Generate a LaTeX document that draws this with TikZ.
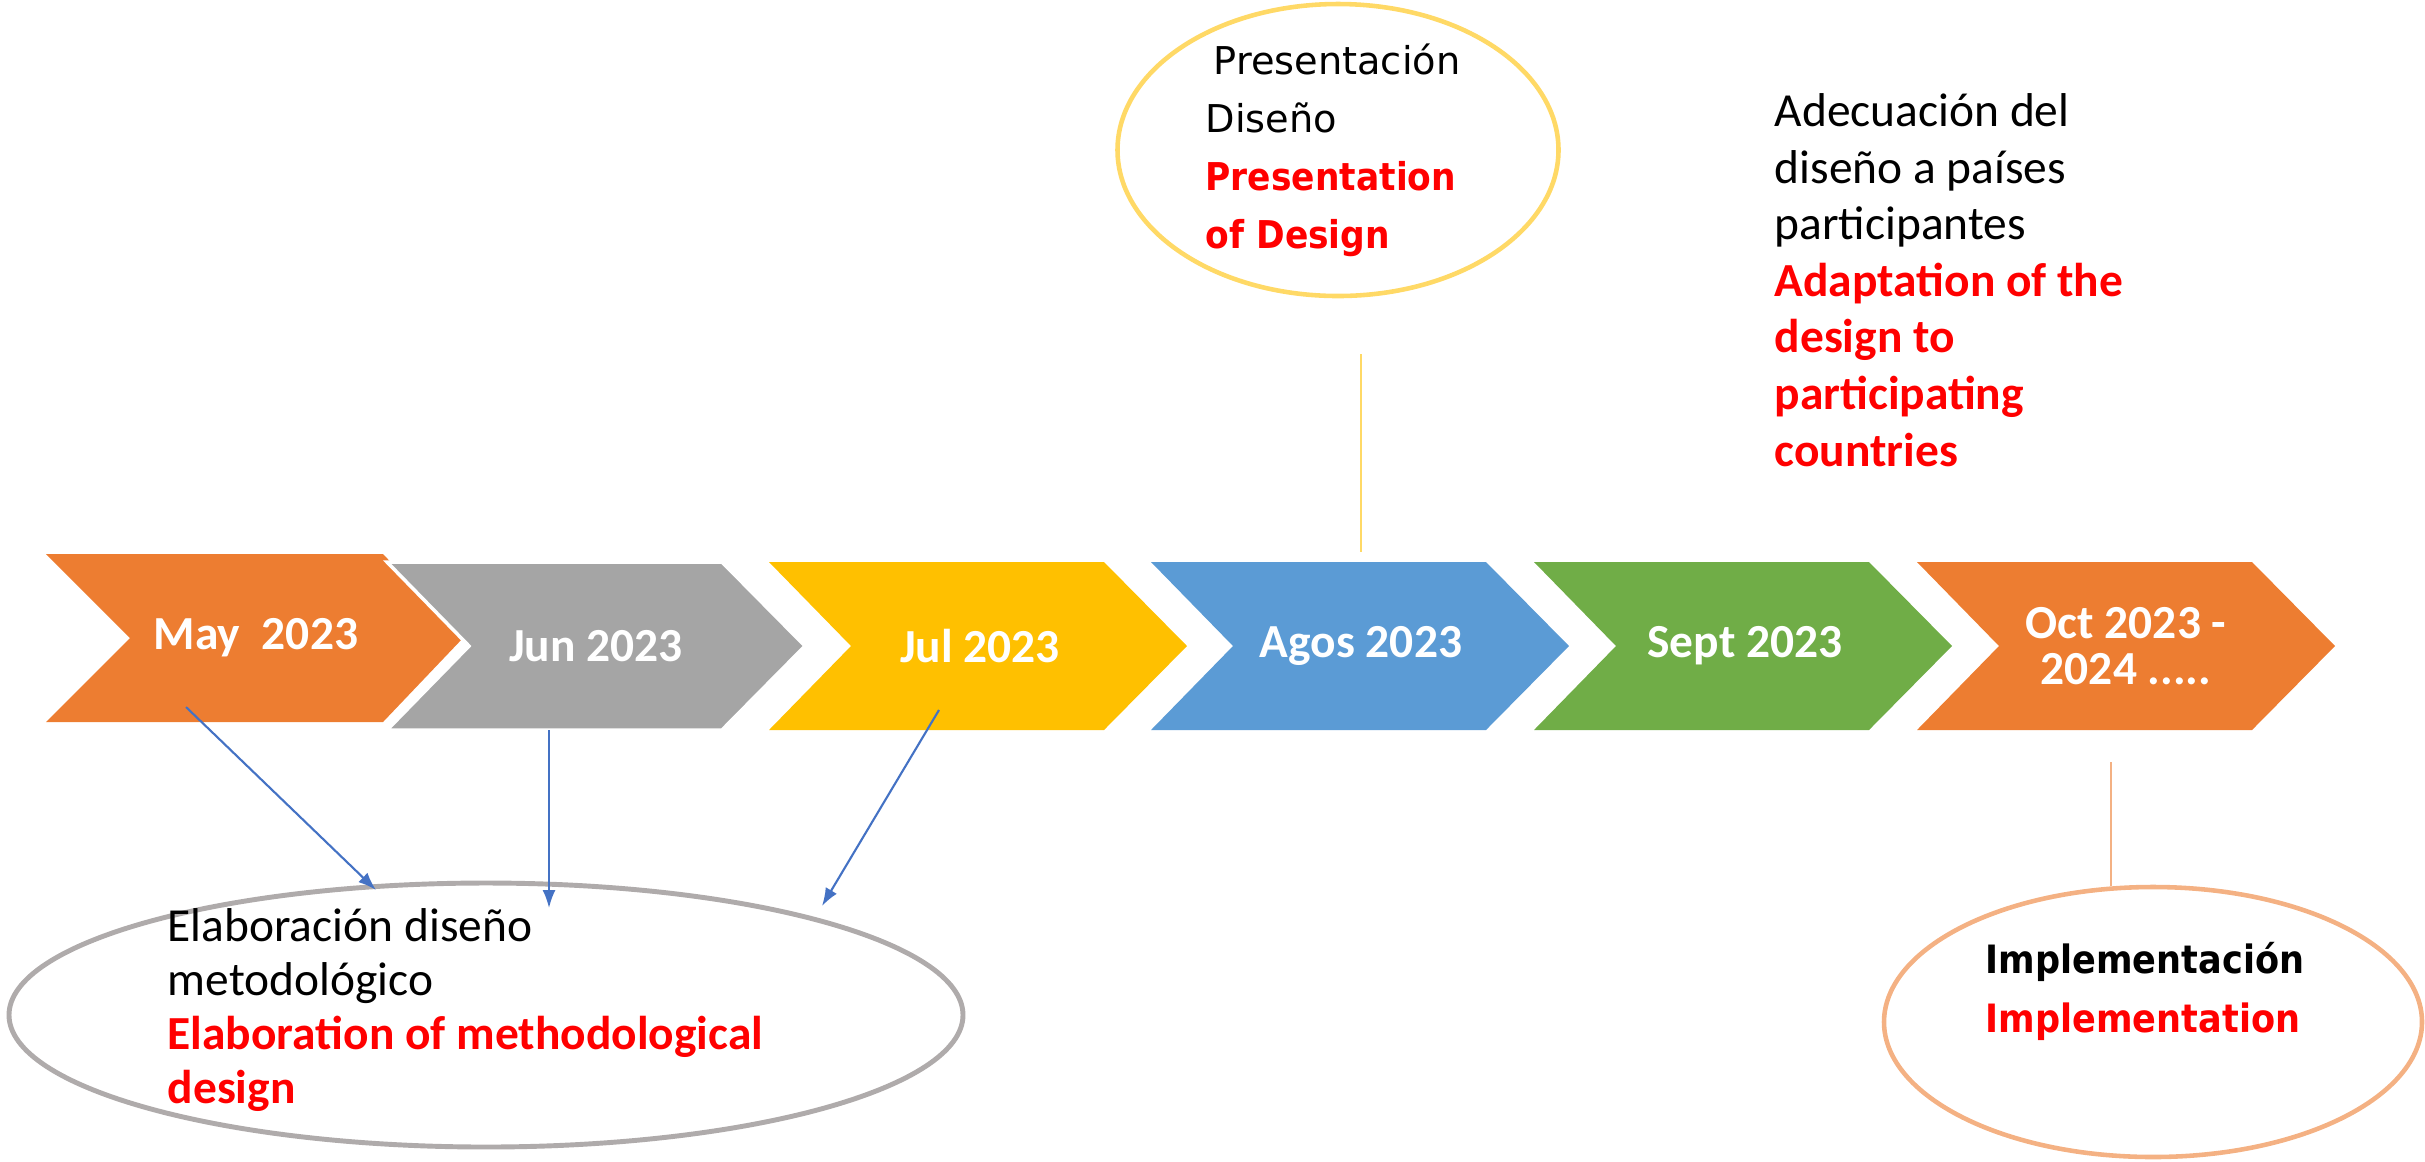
\documentclass[tikz,border=0pt]{standalone}
\usepackage{fontspec}
\setmainfont{Carlito}
\newfontfamily\verdana{DejaVu Sans}
\newfontfamily\tahoma{DejaVu Sans}[FakeStretch=0.9]
\usetikzlibrary{arrows.meta}

\definecolor{naranja}{HTML}{ED7D31}
\definecolor{gris}{HTML}{A5A5A5}
\definecolor{amarillo}{HTML}{FFC000}
\definecolor{azul}{HTML}{5B9BD5}
\definecolor{verde}{HTML}{70AD47}
\definecolor{azulflecha}{HTML}{4472C4}
\definecolor{grisborde}{HTML}{AFABAB}
\definecolor{oroclaro}{HTML}{FFD966}
\definecolor{salmon}{HTML}{F4B183}
\definecolor{rojo}{HTML}{FF0000}

\newcommand{\rojo}[1]{\textcolor{rojo}{\bfseries #1}}

\tikzset{
  mes/.style={text=white, align=center, inner sep=0pt, font=\fontsize{13.5}{16}\selectfont\bfseries},
  texto/.style={anchor=west, align=left, inner sep=0pt, font=\fontsize{13.5}{15.4}\selectfont},
  conector/.style={azulflecha, line width=0.6pt, -{Latex[length=1.8mm,width=1.3mm]}},
}

\begin{document}
\begin{tikzpicture}[x=0.1mm, y=-0.1mm] %1 unidad = 1 pixel
        \useasboundingbox (0,0) rectangle (2425,1161);

        %flechas de los meses
        \fill[naranja] (46,554) -- (383,554) -- (463,638) -- (383,722) -- (46,722) -- (130,638) -- cycle;
        \filldraw[fill=gris, draw=white, line width=1pt] (387,562) -- (722,562) -- (805,646) -- (722,730) -- (387,730) -- (469,646) -- cycle;
        \fill[amarillo] (769,562) -- (1104,562) -- (1187,646) -- (1104,730) -- (769,730) -- (851,646) -- cycle;
        \fill[azul] (1151,562) -- (1486,562) -- (1569,646) -- (1486,730) -- (1151,730) -- (1233,646) -- cycle;
        \fill[verde] (1534,562) -- (1869,562) -- (1952,646) -- (1869,730) -- (1534,730) -- (1616,646) -- cycle;
        \fill[naranja] (1917,562) -- (2252,562) -- (2335,646) -- (2252,730) -- (1917,730) -- (1999,646) -- cycle;

        \node[mes] (may) at (256,638) {May\ \ 2023};
        \node[mes] (jun) at (596,646) {Jun 2023};
        \node[mes] (jul) at (980,646) {Jul 2023};
        \node[mes] (agos) at (1361,646) {Agos 2023};
        \node[mes] (sept) at (1745,646) {Sept 2023};
        \node[mes, font=\fontsize{13.5}{13.3}\selectfont\bfseries] (oct) at (2126,646) {Oct 2023 -\\2024 .....};

        %elipses
        \draw[grisborde, line width=1.4pt] (486,1015) ellipse (47.7mm and 13.2mm);
        \draw[oroclaro, line width=1.3pt] (1338,150) ellipse (22.05mm and 14.6mm);
        \draw[salmon, line width=1.3pt] (2153,1022) ellipse (26.9mm and 13.5mm);

        %conectores
        \coordinate (a1) at (186,707);
        \coordinate (b1) at (376,890);
        \coordinate (a2) at (549,730);
        \coordinate (b2) at (549,908);
        \coordinate (a3) at (939,710);
        \coordinate (b3) at (822,906);
        \coordinate (p1) at (1361,354);
        \coordinate (p2) at (1361,552);
        \coordinate (q1) at (2111,762);
        \coordinate (q2) at (2111,886);

        \draw[conector] (a1) -- (b1);
        \draw[conector] (a2) -- (b2);
        \draw[conector] (a3) -- (b3);
        \draw[amarillo!60, line width=0.6pt] (p1) -- (p2);
        \draw[salmon, line width=0.6pt] (q1) -- (q2);

        %textos
        \node[texto] (elab) at (167,1010) {Elaboración diseño\\metodológico\\\rojo{Elaboration of methodological}\\\rojo{design}};
        \node[texto, font=\fontsize{13.5}{16.1}\selectfont] (adec) at (1774,280) {Adecuación del\\diseño a países\\participantes\\\rojo{Adaptation of the}\\\rojo{design to}\\\rojo{participating}\\\rojo{countries}};
        \node[texto, font=\verdana\fontsize{10.9}{16.5}\selectfont] (pres) at (1205,150) {\hspace*{0.8mm}Presentación\\Diseño\\\rojo{\tahoma\fontsize{10.9}{16.5}\selectfont Presentation}\\\rojo{\tahoma\fontsize{10.9}{16.5}\selectfont of Design}};
        \node[texto, font=\tahoma\bfseries\fontsize{11.1}{16.8}\selectfont] (impl) at (1985,991) {Implementación\\\textcolor{rojo}{Implementation}};
    \end{tikzpicture}
\end{document}
